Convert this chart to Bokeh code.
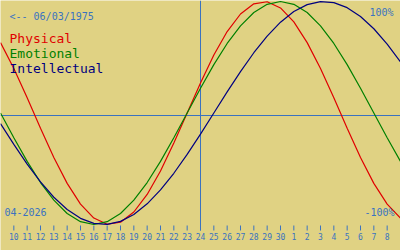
from bokeh.plotting import figure
from bokeh.models import Range1d, Label, ColumnDataSource
from bokeh.core.properties import value
from bokeh.embed import file_html
from bokeh.resources import INLINE

# ---- data ----
day_labels = ["10", "11", "12", "13", "14", "15", "16", "17", "18", "19", "20",
              "21", "22", "23", "24", "25", "26", "27", "28", "29", "30",
              "1", "2", "3", "4", "5", "6", "7", "8"]
day_offsets = list(range(-14, 15))          # days relative to the marked day (24)
curve_offsets = list(range(-15, 16))        # sample days for the curves

physical = [0.6311, 0.3984, 0.1362, -0.1362, -0.3984, -0.6311, -0.8170, -0.9423,
            -0.9977, -0.9791, -0.8879, -0.7308, -0.5196, -0.2698, 0.0, 0.2698,
            0.5196, 0.7308, 0.8879, 0.9791, 0.9977, 0.9423, 0.8170, 0.6311,
            0.3984, 0.1362, -0.1362, -0.3984, -0.6311, -0.8170, -0.9423]
emotional = [0.0, -0.2225, -0.4339, -0.6235, -0.7818, -0.9010, -0.9749, -1.0,
             -0.9749, -0.9010, -0.7818, -0.6235, -0.4339, -0.2225, 0.0, 0.2225,
             0.4339, 0.6235, 0.7818, 0.9010, 0.9749, 1.0, 0.9749, 0.9010,
             0.7818, 0.6235, 0.4339, 0.2225, 0.0, -0.2225, -0.4339]
intellectual = [-0.0951, -0.2817, -0.4582, -0.6182, -0.7557, -0.8660, -0.9450,
                -0.9898, -0.9989, -0.9718, -0.9096, -0.8146, -0.6901, -0.5406,
                -0.3717, -0.1893, 0.0, 0.1893, 0.3717, 0.5406, 0.6901, 0.8146,
                0.9096, 0.9718, 0.9989, 0.9898, 0.9450, 0.8660, 0.7557, 0.6182,
                0.4582]

birth_text = "<-- 06/03/1975"
month_text = "04-2026"
series_names = ["Physical", "Emotional", "Intellectual"]

# ---- styles ----
BG = "#E0D283"
BLUE = "#3A72C0"
COLORS = ["#E00000", "#008000", "#000080"]
MONO = "DejaVu Sans Mono"

W, H = 400, 250
ZERO_PX, AMP_PX = 112.5, 111.5
TXT_SHIFT = 4.5


def vy(py):
    """screen pixel (from top) -> value units"""
    return (ZERO_PX - py) / AMP_PX


p = figure(width=W, height=H, output_backend="svg", toolbar_location=None,
           x_range=Range1d(-15, 15), y_range=Range1d(vy(H), vy(0)),
           min_border=0)
p.axis.visible = False
p.grid.visible = False
p.outline_line_color = None
p.background_fill_color = BG
p.border_fill_color = BG

# horizontal middle line and vertical "today" line
p.segment(x0=[-15], x1=[15], y0=[vy(115)], y1=[vy(115)], line_color=BLUE, line_width=1)
p.segment(x0=[0], x1=[0], y0=[vy(0)], y1=[vy(230)], line_color=BLUE, line_width=1)

# curves
for vals, col in zip([physical, emotional, intellectual], COLORS):
    p.line(curve_offsets, vals, line_color=col, line_width=1.2)

# day ticks and labels
tick_src = ColumnDataSource(dict(x=day_offsets, lab=day_labels))
p.segment(x0="x", x1="x", y0=vy(225), y1=vy(230), source=tick_src,
          line_color=BLUE, line_width=1)
p.text(x="x", y=vy(240.5 - TXT_SHIFT), text="lab", source=tick_src, text_align="center",
       text_baseline="alphabetic", text_color=BLUE, text_font=value(MONO),
       text_font_size="8px")


def label(txt, x, y_px, size, color, align="left"):
    p.add_layout(Label(x=x, y=H - (y_px - TXT_SHIFT), x_units="screen", y_units="screen",
                       text=txt, text_font=MONO, text_font_size=size,
                       text_color=color, text_align=align,
                       text_baseline="alphabetic"))


label(birth_text, 9, 20.7, "10px", BLUE)
for i, (name, col) in enumerate(zip(series_names, COLORS)):
    label(name, 9, 42.7 + 15 * i, "13px", col)
label("100%", 393, 16, "10px", BLUE, "right")
label("-100%", 394, 216, "10px", BLUE, "right")
label(month_text, 4, 216, "10px", BLUE)

open("out.html", "w").write(file_html(p, INLINE))
